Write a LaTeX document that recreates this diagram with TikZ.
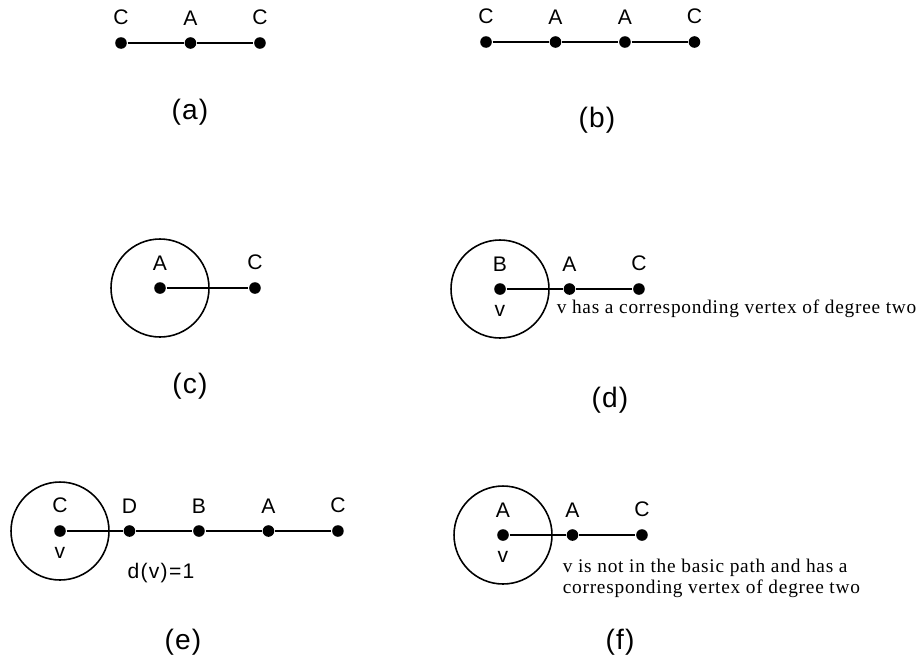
\documentclass[tikz,border=0pt]{standalone}
\usepackage{fontspec}
\setmainfont{Liberation Serif}
\setsansfont{Liberation Sans}
\usetikzlibrary{positioning}

\begin{document}
\begin{tikzpicture}[x=0.02cm,y=-0.02cm,node distance=1.39cm,line width=0.9pt,
    vtx/.style={circle,fill,inner sep=0pt,minimum size=6.6pt},
    every label/.style={font=\sffamily\fontsize{12}{14}\selectfont,inner sep=0pt},
    label distance=6pt,
    vlab/.style={label distance=5pt},
    caption/.style={font=\sffamily\fontsize{16}{18}\selectfont\addfontfeature{LetterSpace=4}},
    note/.style={font=\fontsize{11}{12}\selectfont\addfontfeature{LetterSpace=4},align=left,anchor=west,inner sep=0pt}]
    \useasboundingbox (0,0) rectangle (922,656);

    % (a)
    \node[vtx,label=above:C] (a1) at (121,43) {};
    \node[vtx,label=above:A] (a2) [right of=a1] {};
    \node[vtx,label=above:C] (a3) [right of=a2] {};
    \draw (a1) -- (a2) -- (a3);
    \node[caption] (capa) at (190,112) {(a)};

    % (b)
    \node[vtx,label=above:C] (b1) at (486,42) {};
    \node[vtx,label=above:A] (b2) [right of=b1] {};
    \node[vtx,label=above:A] (b3) [right of=b2] {};
    \node[vtx,label=above:C] (b4) [right of=b3] {};
    \draw (b1) -- (b2) -- (b3) -- (b4);
    \node[caption] (capb) at (597,120) {(b)};

    % (c)
    \node[vtx,label=above:A] (c1) at (160,288) {};
    \node[vtx,label=above:C] (c2) [right of=c1,node distance=1.9cm] {};
    \draw (c1) circle[radius=0.98cm];
    \draw (c1) -- (c2);
    \node[caption] (capc) at (190,386) {(c)};

    % (d)
    \node[vtx,label=above:B,label={[vlab]below:v}] (d1) at (500,289) {};
    \node[vtx,label=above:A] (d2) [right of=d1] {};
    \node[vtx,label=above:C] (d3) [right of=d2] {};
    \draw (d1) circle[radius=0.98cm];
    \draw (d1) -- (d2) -- (d3);
    \node[note] (noted) at (556,309) {v has a corresponding vertex of degree two};
    \node[caption] (capd) at (610,400) {(d)};

    % (e)
    \node[vtx,label=above:C,label={[vlab]below:v}] (e1) at (60,531) {};
    \node[vtx,label=above:D] (e2) [right of=e1] {};
    \node[vtx,label=above:B] (e3) [right of=e2] {};
    \node[vtx,label=above:A] (e4) [right of=e3] {};
    \node[vtx,label=above:C] (e5) [right of=e4] {};
    \draw (e1) circle[radius=0.98cm];
    \draw (e1) -- (e2) -- (e3) -- (e4) -- (e5);
    \node[font=\sffamily\fontsize{12}{14}\selectfont\addfontfeature{LetterSpace=6}] (dv) at (161,573) {d(v)=1};
    \node[caption] (cape) at (183,642) {(e)};

    % (f)
    \node[vtx,label=above:A,label={[vlab]below:v}] (f1) at (503,535) {};
    \node[vtx,label=above:A] (f2) [right of=f1] {};
    \node[vtx,label=above:C] (f3) [right of=f2] {};
    \draw (f1) circle[radius=0.98cm];
    \draw (f1) -- (f2) -- (f3);
    \node[note] (notef) at (562,578) {v is not in the basic path and has a\\corresponding vertex of degree two};
    \node[caption] (capf) at (620,642) {(f)};
\end{tikzpicture}
\end{document}
